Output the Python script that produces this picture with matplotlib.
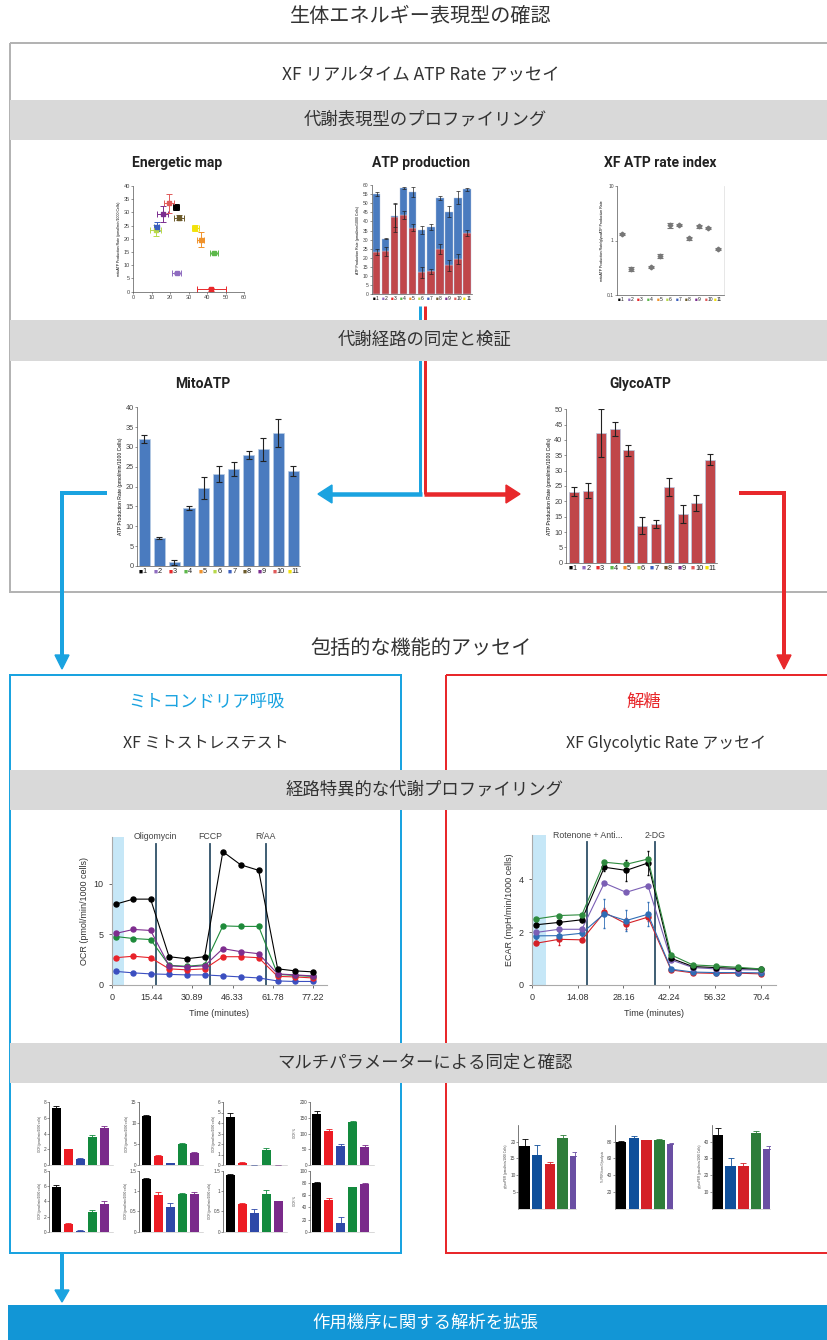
import numpy as np
import matplotlib
matplotlib.use('Agg')
import matplotlib.pyplot as plt
from matplotlib.patches import Rectangle, Polygon
import matplotlib.transforms as mtransforms

plt.rcParams['font.family'] = ['Noto Sans CJK JP', 'DejaVu Sans']

W, H = 828, 1340

# ---- ATP rate assay (11 groups) ----
groups = ['1', '2', '3', '4', '5', '6', '7', '8', '9', '10', '11']
group_colors = ['#000000', '#8f6cc0', '#e8282b', '#5cb84a', '#f0922b', '#b8d94a',
                '#3a5fbf', '#6b5a2a', '#7b2d8f', '#e05a5a', '#f2e20a']
mito_atp = [32.0, 7.1, 0.9, 14.6, 19.7, 23.2, 24.5, 28.0, 29.4, 33.5, 24.0]
mito_err = [1.0, 0.3, 0.6, 0.5, 2.8, 2.0, 1.7, 1.0, 2.9, 3.6, 1.2]
glyco_atp = [23.2, 23.5, 42.2, 43.7, 36.6, 12.1, 12.6, 24.7, 15.9, 19.5, 33.6]
glyco_err = [1.5, 2.5, 7.9, 2.3, 1.9, 2.9, 1.3, 2.8, 3.0, 2.7, 1.8]
total_err = [1.0, 0.4, 6.2, 0.6, 2.8, 2.0, 1.7, 1.0, 2.9, 3.6, 1.0]
rate_index = [1.32, 0.30, np.nan, 0.33, 0.52, 1.9, 1.9, 1.1, 1.82, 1.7, 0.70]
rate_err = [0.07, 0.02, np.nan, 0.015, 0.05, 0.22, 0.08, 0.06, 0.12, 0.08, 0.04]

# ---- Mito stress test OCR kinetics ----
ocr_time = [1.5, 8.3, 14.9, 22.0, 28.7, 35.6, 42.6, 49.4, 56.3, 63.6, 70.2, 77.0]
ocr_black = [8.0, 8.5, 8.5, 2.8, 2.6, 2.8, 13.2, 11.9, 11.35, 1.6, 1.4, 1.3]
ocr_purple = [5.1, 5.5, 5.4, 1.9, 1.8, 1.9, 3.6, 3.3, 3.1, 1.1, 1.0, 0.9]
ocr_green = [4.8, 4.6, 4.5, 1.95, 1.85, 2.0, 5.85, 5.8, 5.8, 1.05, 0.95, 0.85]
ocr_red = [2.7, 2.85, 2.7, 1.6, 1.5, 1.6, 2.8, 2.8, 2.7, 0.85, 0.8, 0.7]
ocr_blue = [1.35, 1.2, 1.1, 1.05, 1.0, 1.0, 0.9, 0.8, 0.7, 0.4, 0.35, 0.35]
ocr_ticks = [0, 15.44, 30.89, 46.33, 61.78, 77.22]
ocr_injections = [16.8, 37.6, 59.0]
ocr_inj_labels = ['Oligomycin', 'FCCP', 'R/AA']

# ---- Glycolytic rate assay ECAR kinetics ----
ecar_time = [1.3, 8.4, 15.4, 22.3, 29.0, 35.7, 42.8, 49.5, 56.5, 63.3, 70.3]
ecar_green = [2.5, 2.63, 2.66, 4.65, 4.57, 4.77, 1.14, 0.76, 0.72, 0.67, 0.61]
ecar_black = [2.28, 2.37, 2.47, 4.46, 4.34, 4.62, 1.01, 0.70, 0.66, 0.63, 0.60]
ecar_purple = [1.99, 2.11, 2.11, 3.86, 3.51, 3.76, 0.95, 0.66, 0.61, 0.58, 0.57]
ecar_blue = [1.86, 1.87, 1.96, 2.70, 2.44, 2.68, 0.60, 0.49, 0.47, 0.47, 0.46]
ecar_red = [1.58, 1.73, 1.71, 2.75, 2.32, 2.57, 0.57, 0.46, 0.44, 0.45, 0.42]
ecar_black_err = [0.1, 0.1, 0.1, 0.15, 0.4, 0.45, 0.05, 0.03, 0.03, 0.03, 0.03]
ecar_blue_err = [0.1, 0.12, 0.1, 0.55, 0.4, 0.45, 0.05, 0.03, 0.03, 0.03, 0.03]
ecar_red_err = [0.08, 0.2, 0.06, 0.15, 0.2, 0.15, 0.04, 0.03, 0.03, 0.03, 0.03]
ecar_ticks = [0, 14.08, 28.16, 42.24, 56.32, 70.4]
ecar_injections = [17.1, 37.9]
ecar_inj_labels = ['Rotenone + Anti...', '2-DG']

# ---- Mito stress test parameters (black, red, blue, green, purple) ----
mst_colors = ['#000000', '#ed1c24', '#2e48a8', '#138a3e', '#7a2a8a']
mst_basal = [7.2, 2.0, 0.75, 3.6, 4.7]
mst_basal_err = [0.25, 0.05, 0.1, 0.2, 0.3]
mst_maximal = [11.7, 2.1, 0.4, 4.9, 2.8]
mst_maximal_err = [0.2, 0.3, 0.1, 0.3, 0.4]
mst_spare = [4.6, 0.2, 0.02, 1.4, 0.02]
mst_spare_err = [0.4, 0.1, 0.0, 0.2, 0.0]
mst_spare_pct = [162, 107, 60, 136, 58]
mst_spare_pct_err = [8, 7, 8, 3, 5]
mst_atp = [5.9, 1.05, 0.15, 2.65, 3.7]
mst_atp_err = [0.25, 0.05, 0.05, 0.15, 0.3]
mst_leak = [1.3, 0.9, 0.62, 0.93, 0.94]
mst_leak_err = [0.03, 0.07, 0.1, 0.02, 0.05]
mst_nonmito = [1.4, 0.68, 0.46, 0.92, 0.75]
mst_nonmito_err = [0.03, 0.04, 0.1, 0.1, 0.02]
mst_coupling = [81, 53, 15, 73, 79]
mst_coupling_err = [1, 3, 10, 1, 0.5]

# ---- Glycolytic rate parameters (black, blue, red, green, purple) ----
grt_colors = ['#000000', '#0f4f9a', '#d42027', '#2e7d3a', '#6a4fa3']
grt_basal = [18.7, 16.0, 13.3, 21.0, 15.6]
grt_basal_err = [2.2, 3.0, 0.7, 1.0, 1.2]
grt_per_pct = [79.5, 85, 81.5, 82, 77]
grt_per_pct_err = [1.5, 2, 0.5, 1.5, 2]
grt_comp = [44, 25.5, 25.5, 45.5, 35.7]
grt_comp_err = [4.5, 4.5, 1.5, 1.0, 2.0]

BLUE = '#1aa3e0'
RED = '#e8282b'
GRAY_TXT = '#333333'
BAND = '#d9d9d9'
TICK_FONT = ['Liberation Sans', 'DejaVu Sans']


def px_axes(x0, y0, x1, y1):
    a = fig.add_axes([x0 / W, 1 - y1 / H, (x1 - x0) / W, (y1 - y0) / H])
    a.set_facecolor('none')
    return a


def lw(px):
    return px * 72 / 100


def style_axes(a, fs, spine='#555555'):
    for s in ['top', 'right']:
        a.spines[s].set_visible(False)
    for s in ['left', 'bottom']:
        a.spines[s].set_color(spine)
        a.spines[s].set_linewidth(0.5)
    a.tick_params(labelsize=fs, length=1.5, width=0.4, pad=1, colors='#444444')
    for t in a.get_xticklabels() + a.get_yticklabels():
        t.set_family(TICK_FONT)


def group_ticks(a, xs, fs, y=-0.015):
    a.set_xticks(xs)
    a.set_xticklabels([])
    a.tick_params(axis='x', length=0)
    tr = mtransforms.blended_transform_factory(a.transData, a.transAxes)
    for x, g, c in zip(xs, groups, group_colors):
        a.text(x - 0.12, y, '\u25a0', color=c, fontsize=fs * 0.9, ha='right',
               va='top', transform=tr, family=TICK_FONT)
        a.text(x - 0.1, y, g, color='#222222', fontsize=fs, ha='left',
               va='top', transform=tr, family=TICK_FONT)


fig = plt.figure(figsize=(W / 100, H / 100), dpi=100)
bg = fig.add_axes([0, 0, 1, 1])
bg.set_xlim(0, W)
bg.set_ylim(H, 0)
bg.axis('off')

# ---------- frames, arrows, bands ----------
bg.add_patch(Rectangle((10, 43), W, 549, fill=False, ec='#b3b3b3', lw=lw(2)))

# splitting pipe and arrows
bg.plot([420.5, 420.5], [306, 494], color=BLUE, lw=lw(3), solid_capstyle='butt')
bg.plot([425.5, 425.5], [306, 494], color=RED, lw=lw(3), solid_capstyle='butt')
bg.plot([422, 330], [494, 494], color=BLUE, lw=lw(4.5), solid_capstyle='butt')
bg.add_patch(Polygon([(332, 485), (332, 503), (318, 494)], color=BLUE))
bg.plot([424, 508], [494, 494], color=RED, lw=lw(4.5), solid_capstyle='butt')
bg.add_patch(Polygon([(506, 485), (506, 503), (520, 494)], color=RED))
bg.plot([105, 62, 62], [493, 493, 657], color=BLUE, lw=lw(4), solid_joinstyle='miter')
bg.add_patch(Polygon([(55, 655), (69, 655), (62, 669)], color=BLUE))
bg.plot([741, 784, 784], [493, 493, 657], color=RED, lw=lw(4), solid_joinstyle='miter')
bg.add_patch(Polygon([(777, 655), (791, 655), (784, 669)], color=RED))

# assay boxes
bg.add_patch(Rectangle((10, 675), 391, 578, fill=False, ec=BLUE, lw=lw(2)))
bg.add_patch(Rectangle((446, 675), 400, 578, fill=False, ec=RED, lw=lw(2)))
bg.plot([62, 62], [1253, 1292], color=BLUE, lw=lw(4), solid_capstyle='butt')
bg.add_patch(Polygon([(55, 1290), (69, 1290), (62, 1302)], color=BLUE))

# grey section bands sit above the pipes and box edges
for y0, y1 in [(100, 140), (320, 361), (770, 810), (1043, 1083)]:
    bg.add_patch(Rectangle((10, y0), W, y1 - y0, fc=BAND, ec='none', zorder=3))
bg.add_patch(Rectangle((8, 1305), W, 40, fc='#1296d6', ec='none', zorder=3))

txt_kw = dict(ha='center', va='center', zorder=4)
bg.text(421, 16, '生体エネルギー表現型の確認', fontsize=14.5, color=GRAY_TXT, **txt_kw)
bg.text(421, 75, 'XF リアルタイム ATP Rate アッセイ', fontsize=12.5, color=GRAY_TXT, **txt_kw)
bg.text(425, 120, '代謝表現型のプロファイリング', fontsize=12.5, color=GRAY_TXT, **txt_kw)
bg.text(425, 340, '代謝経路の同定と検証', fontsize=12.5, color=GRAY_TXT, **txt_kw)
bg.text(421, 648, '包括的な機能的アッセイ', fontsize=14.5, color=GRAY_TXT, **txt_kw)
bg.text(206, 702, 'ミトコンドリア呼吸', fontsize=12.5, color=BLUE, **txt_kw)
bg.text(644, 702, '解糖', fontsize=12.5, color=RED, **txt_kw)
bg.text(206, 743, 'XF ミトストレステスト', fontsize=11.5, color=GRAY_TXT, **txt_kw)
bg.text(666, 743, 'XF Glycolytic Rate アッセイ', fontsize=11.5, color=GRAY_TXT, **txt_kw)
bg.text(425, 790, '経路特異的な代謝プロファイリング', fontsize=12.5, color=GRAY_TXT, **txt_kw)
bg.text(425, 1063, 'マルチパラメーターによる同定と確認', fontsize=12.5, color=GRAY_TXT, **txt_kw)
bg.text(425, 1323, '作用機序に関する解析を拡張', fontsize=12.5, color='white', **txt_kw)

title_kw = dict(fontsize=10, fontweight='bold', color='#222222', ha='center', va='center',
                family=['Roboto', 'DejaVu Sans'])
bg.text(177, 163, 'Energetic map', **title_kw)
bg.text(421, 163, 'ATP production', **title_kw)
bg.text(660, 163, 'XF ATP rate index', **title_kw)
bg.text(203, 384, 'MitoATP', **title_kw)
bg.text(640, 384, 'GlycoATP', **title_kw)

x11 = np.arange(len(groups))

# ---------- energetic map ----------
ax = px_axes(133.3, 186, 244, 291.7)
for gx, gy, ex, ey, c in zip(glyco_atp, mito_atp, glyco_err, mito_err, group_colors):
    ax.errorbar(gx, gy, xerr=ex, yerr=ey, fmt='s', ms=2.4, color=c, elinewidth=0.7,
                capsize=2, capthick=0.7)
ax.set_xlim(0, 60)
ax.set_ylim(0, 40)
ax.set_xticks(range(0, 61, 10))
ax.set_yticks(range(0, 41, 5))
style_axes(ax, 4)
ax.set_ylabel('mitoATP Production Rate (pmol/min/1000 Cells)', fontsize=2.5, labelpad=2,
              family=TICK_FONT)

# ---------- ATP production (stacked) ----------
ax = px_axes(371.7, 185, 472, 294.3)
ax.bar(x11, glyco_atp, width=0.8, color='#c0464a', ec='#b8c8e0', lw=0.3)
ax.bar(x11, mito_atp, bottom=glyco_atp, width=0.8, color='#4a7bbf', ec='#b8c8e0', lw=0.3)
ax.errorbar(x11, glyco_atp, yerr=glyco_err, fmt='none', ecolor='#222222', elinewidth=0.5,
            capsize=1.5, capthick=0.5)
ax.errorbar(x11, np.add(glyco_atp, mito_atp), yerr=total_err, fmt='none', ecolor='#222222',
            elinewidth=0.5, capsize=1.5, capthick=0.5)
ax.set_xlim(-0.55, 10.55)
ax.set_ylim(0, 60)
ax.set_yticks(range(0, 61, 5))
style_axes(ax, 3.6)
group_ticks(ax, x11, 3.6)
ax.set_ylabel('ATP Production Rate (pmol/min/1000 Cells)', fontsize=2.5, labelpad=2,
              family=TICK_FONT)

# ---------- XF ATP rate index ----------
ax = px_axes(617.3, 186, 724, 295)
ax.errorbar(x11, rate_index, yerr=rate_err, fmt='D', ms=2.4, color='#777777',
            elinewidth=0.8, capsize=2.4, capthick=0.8)
ax.set_yscale('log')
ax.set_ylim(0.1, 10)
ax.set_xlim(-0.48, 10.65)
ax.set_yticks([0.1, 1, 10])
ax.set_yticklabels(['0.1', '1', '10'])
ax.minorticks_off()
style_axes(ax, 3.6)
ax.spines['right'].set_visible(True)
ax.spines['right'].set_color('#dddddd')
ax.spines['right'].set_linewidth(0.5)
group_ticks(ax, x11, 3.6)
ax.set_ylabel('mitoATP Production Rate/glycoATP Production Rate', fontsize=2.5, labelpad=2,
              family=TICK_FONT)

# ---------- MitoATP ----------
ax = px_axes(137.3, 407.3, 300, 566)
ax.bar(x11, mito_atp, width=0.75, color='#4a7bbf', ec='#b8cce4', lw=0.5)
ax.errorbar(x11, mito_atp, yerr=mito_err, fmt='none', ecolor='#222222', elinewidth=0.8,
            capsize=2.5, capthick=0.8)
ax.set_xlim(-0.47, 10.45)
ax.set_ylim(0, 40)
ax.set_yticks(range(0, 41, 5))
style_axes(ax, 5.3)
group_ticks(ax, x11, 5.3)
ax.set_ylabel('ATP Production Rate (pmol/min/1000 Cells)', fontsize=3.6, labelpad=2,
              family=TICK_FONT)

# ---------- GlycoATP ----------
ax = px_axes(566, 409.3, 716.7, 562.7)
ax.bar(x11, glyco_atp, width=0.75, color='#c0464a', ec='#b8cce4', lw=0.5)
ax.errorbar(x11, glyco_atp, yerr=glyco_err, fmt='none', ecolor='#222222', elinewidth=0.8,
            capsize=2.5, capthick=0.8)
ax.set_xlim(-0.59, 10.49)
ax.set_ylim(0, 50)
ax.set_yticks(range(0, 51, 5))
style_axes(ax, 5.3)
group_ticks(ax, x11, 5.3)
ax.set_ylabel('ATP Production Rate (pmol/min/1000 Cells)', fontsize=3.6, labelpad=2,
              family=TICK_FONT)


# ---------- kinetic traces ----------
def kinetic_axes(box, xlim, ylim, xticks, xlabels, yticks, inj, inj_labels, ylabel, shade):
    a = px_axes(*box)
    a.axvspan(0, shade, color='#c6e7f7', lw=0, zorder=0)
    tr = mtransforms.blended_transform_factory(a.transData, a.transAxes)
    for x, lab in zip(inj, inj_labels):
        a.axvline(x, ymax=0.955, color='#2f5068', lw=1.3, zorder=1)
        a.text(x, 1.0, lab, transform=tr, ha='center', va='center', fontsize=6.3,
               color='#444444', family=TICK_FONT)
    a.set_xlim(*xlim)
    a.set_ylim(*ylim)
    a.set_xticks(xticks)
    a.set_xticklabels(xlabels)
    a.set_yticks(yticks)
    for s in ['top', 'right']:
        a.spines[s].set_visible(False)
    for s in ['left', 'bottom']:
        a.spines[s].set_color('#aaaaaa')
        a.spines[s].set_linewidth(0.8)
    a.tick_params(labelsize=6.5, length=2.5, width=0.6, colors='#555555', labelcolor='#333333')
    for t in a.get_xticklabels() + a.get_yticklabels():
        t.set_family(TICK_FONT)
    a.set_xlabel('Time (minutes)', fontsize=6.5, color='#333333', family=TICK_FONT, labelpad=5)
    a.set_ylabel(ylabel, fontsize=6.5, color='#333333', family=TICK_FONT, labelpad=3)
    return a


ax = kinetic_axes((111.7, 837, 327, 985), (0, 82.5), (0, 14.65), ocr_ticks,
                  ['0', '15.44', '30.89', '46.33', '61.78', '77.22'], [0, 5, 10],
                  ocr_injections, ocr_inj_labels, 'OCR (pmol/min/1000 cells)', 4.7)
for ys, c in [(ocr_blue, '#3b4fc0'), (ocr_red, '#e8232a'), (ocr_green, '#1e8a3a'),
              (ocr_purple, '#7e2d8e'), (ocr_black, '#000000')]:
    ax.plot(ocr_time, ys, '-o', color=c, lw=0.8, ms=3.6, zorder=3)

ax = kinetic_axes((531.7, 835, 776, 985), (0, 75), (0, 5.68), ecar_ticks,
                  ['0', '14.08', '28.16', '42.24', '56.32', '70.4'], [0, 2, 4],
                  ecar_injections, ecar_inj_labels, 'ECAR (mpH/min/1000 cells)', 4.4)
zero11 = [0.03] * len(ecar_time)
for ys, es, c in [(ecar_red, ecar_red_err, '#d42027'), (ecar_blue, ecar_blue_err, '#2f6db5'),
                  (ecar_purple, zero11, '#7b5fb5'), (ecar_black, ecar_black_err, '#000000'),
                  (ecar_green, zero11, '#2e8b3e')]:
    ax.errorbar(ecar_time, ys, yerr=es, fmt='-o', color=c, lw=0.8, ms=3.6, elinewidth=0.6,
                capsize=1, zorder=3)


# ---------- parameter bar panels ----------
def param_panel(box, vals, errs, colors, ymax, yticks, ylabel, width, xlim):
    a = px_axes(*box)
    xs = np.arange(len(vals))
    a.bar(xs, vals, width=width, color=colors, lw=0)
    for x, v, e, c in zip(xs, vals, errs, colors):
        a.errorbar(x, v, yerr=[[0], [e]], fmt='none', ecolor=c, elinewidth=0.6,
                   capsize=2, capthick=0.6)
    a.set_xlim(*xlim)
    a.set_ylim(0, ymax)
    a.set_xticks([])
    a.set_yticks(yticks)
    a.set_yticklabels([('%g' % t) for t in yticks])
    for s in ['top', 'right']:
        a.spines[s].set_visible(False)
    a.spines['left'].set_color('#444444')
    a.spines['left'].set_linewidth(0.5)
    a.spines['bottom'].set_color('#bbbbbb')
    a.spines['bottom'].set_linewidth(0.4)
    a.tick_params(labelsize=3.4, length=1.2, width=0.4, pad=0.8, colors='#444444')
    for t in a.get_yticklabels():
        t.set_family(TICK_FONT)
    a.set_ylabel(ylabel, fontsize=2.2, labelpad=1.5, family=TICK_FONT, color='#444444')
    return a


ocr_lab = 'OCR (pmol/min/1000 cells)'
left_cols = [49.3, 139.3, 223.3, 310]
rows = [(1102, 1165), (1171, 1231.7)]
mst_panels = [
    (mst_basal, mst_basal_err, 8, [0, 2, 4, 6, 8], ocr_lab),
    (mst_maximal, mst_maximal_err, 15, [0, 5, 10, 15], ocr_lab),
    (mst_spare, mst_spare_err, 6, [0, 1, 2, 3, 4, 5, 6], ocr_lab),
    (mst_spare_pct, mst_spare_pct_err, 200, [0, 50, 100, 150, 200], 'OCR %'),
    (mst_atp, mst_atp_err, 8, [0, 2, 4, 6, 8], ocr_lab),
    (mst_leak, mst_leak_err, 1.5, [0, 0.5, 1, 1.5], ocr_lab),
    (mst_nonmito, mst_nonmito_err, 1.5, [0, 0.5, 1, 1.5], ocr_lab),
    (mst_coupling, mst_coupling_err, 100, [0, 20, 40, 60, 80, 100], 'OCR %'),
]
for k, (v, e, ymax, yt, lab) in enumerate(mst_panels):
    x0 = left_cols[k % 4]
    y0, y1 = rows[k // 4]
    param_panel((x0, y0, x0 + 64, y1), v, e, mst_colors, ymax, yt, lab, 0.75,
                (-0.575, 4.76))

per_lab = 'glycoPER (pmol/min/1000 Cells)'
grt_panels = [
    (518.3, grt_basal, grt_basal_err, 25, [5, 10, 15, 20], per_lab),
    (615.0, grt_per_pct, grt_per_pct_err, 100, [20, 40, 60, 80], '% PER from Glycolysis'),
    (711.7, grt_comp, grt_comp_err, 50, [10, 20, 30, 40], per_lab),
]
for x0, v, e, ymax, yt, lab in grt_panels:
    param_panel((x0, 1125, x0 + 58, 1208.5), v, e, grt_colors, ymax, yt, lab, 0.83,
                (-0.49, 4.08))

fig.savefig('out.png', dpi=100)
